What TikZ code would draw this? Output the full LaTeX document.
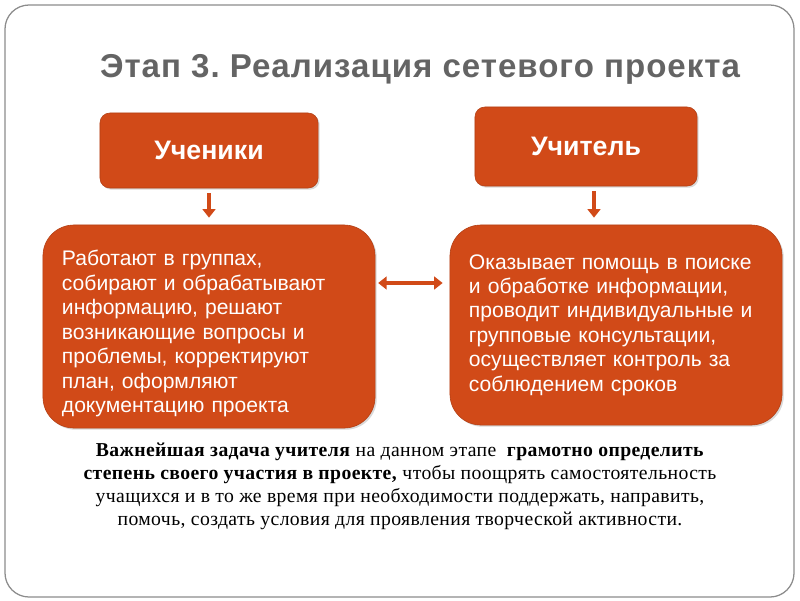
\documentclass[tikz,border=0pt]{standalone}
\usepackage{fontspec}
\setmainfont{Liberation Sans}
\newfontfamily\titlefont[LetterSpace=3]{Liberation Sans}
\newfontfamily\notefont[LetterSpace=2]{Liberation Serif}
\usetikzlibrary{arrows.meta,shadows}
\definecolor{stageorange}{RGB}{209,74,24}
\definecolor{titlegray}{RGB}{100,100,100}
\definecolor{framegray}{RGB}{140,140,140}
\frenchspacing

\begin{document}
\begin{tikzpicture}[x=0.025cm, y=-0.025cm]
    \tikzset{head node/.style={draw=stageorange!85!black, fill=stageorange, rounded corners=7pt, text=white,
        font=\bfseries\fontsize{19}{22}\selectfont,
        drop shadow={opacity=0.3, shadow xshift=1.2pt, shadow yshift=-1.2pt}},
      text node/.style={draw=stageorange!85!black, fill=stageorange, rounded corners=22pt, text=white,
        align=left, text width=7.35cm, inner xsep=0.475cm, inner ysep=0pt,
        font=\fontsize{15}{17.4}\selectfont,
        drop shadow={opacity=0.3, shadow xshift=1.2pt, shadow yshift=-1.2pt}},
      down link/.style={draw=stageorange, line width=2.8pt, -{Triangle[width=9pt,length=6pt]}},
      both link/.style={draw=stageorange, line width=2.8pt, {Triangle[width=9pt,length=6pt]}-{Triangle[width=9pt,length=6pt]}}}

    \useasboundingbox (0,0) rectangle (800,600);

    % Slide frame
    \draw[framegray, line width=0.9pt, rounded corners=0.6cm] (5,5) rectangle (794,597);

    % Title
    \node[font=\titlefont\bfseries\fontsize{23.5}{27}\selectfont, text=titlegray, anchor=base] (title) at (420,77)
      {Этап 3. Реализация сетевого проекта};

    % Headers - pupils and teacher
    \node[head node, minimum width=5.45cm, minimum height=1.875cm] (pupils) at (209,150.5) {Ученики};
    \node[head node, minimum width=5.55cm, minimum height=1.975cm] (teacher) at (586,146.5) {Учитель};

    % Descriptions
    \node[text node, minimum height=5.075cm] (pupils_work) at (209,326.5)
      {\rule{0pt}{21pt}Работают в группах,\\
       собирают и обрабатывают\\
       информацию, решают\\
       возникающие вопросы и\\
       проблемы, корректируют\\
       план, оформляют\\
       документацию проекта};
    \node[text node, minimum height=5cm] (teacher_help) at (616,325)
      {Оказывает помощь в поиске\\
       и обработке информации,\\
       проводит индивидуальные и\\
       групповые консультации,\\
       осуществляет контроль за\\
       соблюдением сроков};

    % Arrows
    \draw[down link, shorten <=3.5pt, shorten >=5pt] (pupils.south) -- (pupils_work.north);
    \draw[down link, shorten <=3.5pt, shorten >=5pt] ([xshift=0.2cm]teacher.south)
      -- ([xshift=0.2cm]teacher.south |- teacher_help.north);
    \draw[both link, shorten <=2pt, shorten >=5pt] (pupils_work.east |- 0,283) -- (teacher_help.west |- 0,283);

    % Note below
    \node[font=\notefont\fontsize{14}{16.4}\selectfont, align=center] (note) at (400,486)
      {\textbf{Важнейшая задача учителя} на данном этапе ~\textbf{грамотно определить}\\
       \textbf{степень своего участия в проекте,} чтобы поощрять самостоятельность\\
       учащихся и в то же время при необходимости поддержать, направить,\\
       помочь, создать условия для проявления творческой активности.};
\end{tikzpicture}
\end{document}
